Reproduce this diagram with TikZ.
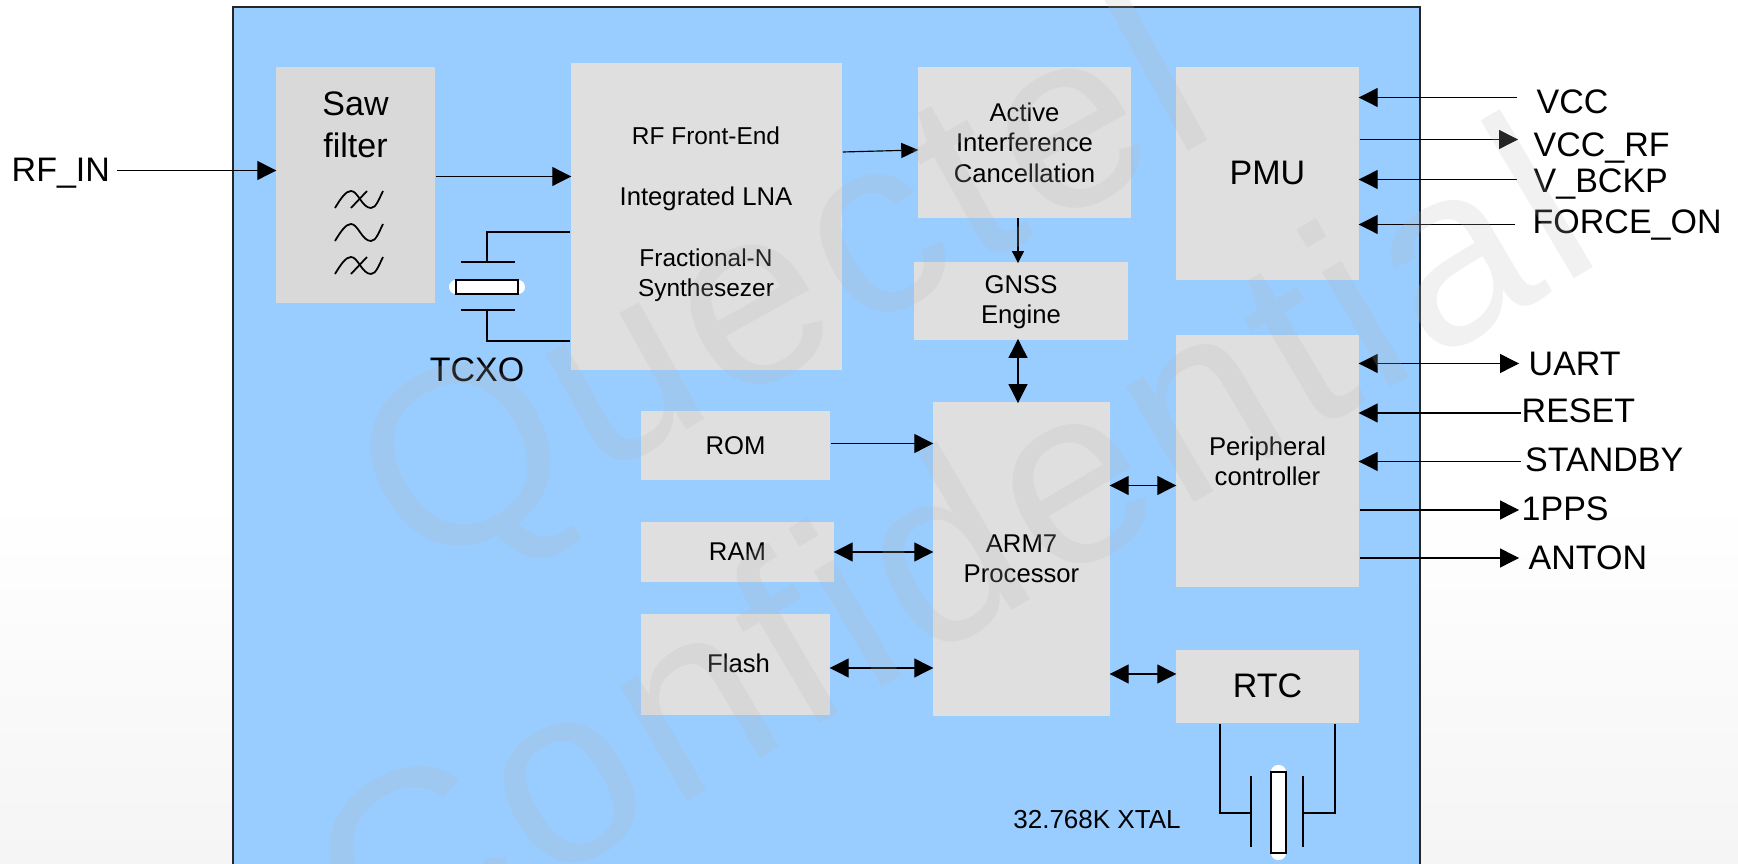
\documentclass[tikz,border=0pt]{standalone}
\usepackage{fontspec}
\setmainfont{Liberation Sans}
\newfontfamily\markfont[LetterSpace=3.2]{Liberation Sans}
\usetikzlibrary{arrows.meta, calc, positioning}

\definecolor{chipblue}{HTML}{99CCFF}
\definecolor{blockgray}{HTML}{DFDFDF}
\definecolor{sawgray}{HTML}{D9D9D9}
\definecolor{markgray}{HTML}{B9B9B9}

\tikzset{
  block/.style={fill=blockgray, inner sep=0pt, align=center, font=\smalltxt},
  bigblock/.style={block, font=\bigtxt},
  pinlabel/.style={anchor=west, inner sep=0pt, font=\bigtxt},
  sig/.style={->, line width=0.33pt, shorten >=-0.3pt},
  sigboth/.style={<->, line width=0.33pt, shorten >=-0.3pt, shorten <=-0.3pt},
  wire/.style={line width=0.5pt},
  watermark/.style={text=markgray, text opacity=0.2, font=\marktxt, inner sep=0pt}
}
\newcommand{\smalltxt}{\fontsize{7.3pt}{8.65pt}\selectfont}
\newcommand{\rftxt}{\fontsize{6.95pt}{8.65pt}\selectfont}
\newcommand{\bigtxt}{\fontsize{9.67pt}{11.9pt}\selectfont}
\newcommand{\marktxt}{\markfont\fontsize{72pt}{80pt}\selectfont}

\begin{document}
\begin{tikzpicture}[x=0.01cm, y=-0.01cm, >={Triangle[length=0.19cm, width=0.19cm]}]
\path[use as bounding box, clip] (0,0) rectangle (1738,864);
\shade[top color=white, bottom color=white!96!black] (0,500) rectangle (1738,864);
\draw[fill=chipblue, draw=black!85, line width=0.45pt] (233,7) rectangle (1420,880);

% blocks
\node[block, fill=sawgray, minimum width=1.59cm, minimum height=2.36cm] (saw) at (355.5,185) {};
\node[bigblock, fill=none] (sawtxt) at (355.5,124.5) {Saw\\filter};
\node[block, minimum width=2.71cm, minimum height=3.07cm] (rf) at (706.5,216.5) {};
\node[block, fill=none, font=\rftxt] (rftxt) at (706,214.5) {RF Front-End\\ \\{\smalltxt Integrated LNA}\\ \\Fractional-N\\Synthesezer};
\node[block, minimum width=2.13cm, minimum height=1.51cm] (aic) at (1024.5,142.5) {};
\node[block, fill=none] (aictxt) at (1024.5,142.5) {Active\\Interference\\Cancellation};
\node[block, minimum width=2.14cm, minimum height=0.78cm] (gnss) at (1021,301) {};
\node[block, fill=none] (gnsstxt) at (1021,302) {GNSS\\Engine};
\node[bigblock, minimum width=1.83cm, minimum height=2.13cm] (pmu) at (1267.5,173.5) {};
\node[bigblock, fill=none] (pmutxt) at (1267.5,172.5) {PMU};
\node[block, minimum width=1.83cm, minimum height=2.51cm] (periph) at (1267.5,461) {};
\node[block, fill=none] (periphtxt) at (1267.5,461.5) {Peripheral\\controller};
\node[block, minimum width=1.77cm, minimum height=3.14cm] (arm) at (1021.5,559) {ARM7\\Processor};
\node[block, minimum width=1.89cm, minimum height=0.69cm] (rom) at (735.5,445.5) {};
\node[block, fill=none] (romtxt) at (735.5,445.5) {ROM};
\node[block, minimum width=1.93cm, minimum height=0.60cm] (ram) at (737.5,552) {RAM};
\node[block, minimum width=1.89cm, minimum height=1.01cm] (flash) at (735.5,664.5) {};
\node[block, fill=none] (flashtxt) at (738.5,663) {Flash};
\node[bigblock, minimum width=1.83cm, minimum height=0.73cm] (rtc) at (1267.5,686.5) {};
\node[bigblock, fill=none] (rtctxt) at (1267.5,685.5) {RTC};

% filter symbols
\foreach \ys in {0,66} {
  \draw[wire] (335,{208+\ys}) .. controls (341,{198+\ys}) and (346,{191+\ys}) .. (351,{191+\ys})
    .. controls (358,{191+\ys}) and (362,{208+\ys}) .. (371,{208+\ys})
    .. controls (376,{208+\ys}) and (379,{199+\ys}) .. (383,{191+\ys});
  \draw[wire] (351,{208+\ys}) -- (367,{191+\ys});
}
\draw[wire] (335,241) .. controls (341,231) and (346,224) .. (351,224)
  .. controls (358,224) and (362,241) .. (371,241)
  .. controls (376,241) and (379,232) .. (383,224);

% outside pins
\node[pinlabel] (lrfin) at (11,173) {RF\_IN};
\coordinate (rfin) at (117,170.5);
\foreach \name/\lx/\ly/\txt in {lvcc/1536/102/VCC, lvccrf/1533/148/VCC\_RF, lbckp/1533/184.5/V\_BCKP, lforce/1532/225/FORCE\_ON,
    luart/1528/364/UART, lreset/1521/411/RESET, lstandby/1524.5/460/STANDBY, lpps/1521/509/1PPS, lanton/1528/557.5/ANTON}
  \node[pinlabel] (\name) at (\lx,\ly) {\txt};
\coordinate (pvcc) at (1517,97.5);
\coordinate (pvccrf) at (1517,139.5);
\coordinate (pbckp) at (1517,179.5);
\coordinate (pforce) at (1515,224.5);
\coordinate (puart) at (1518,363.5);
\coordinate (preset) at (1521,413);
\coordinate (pstandby) at (1521,461.5);
\coordinate (ppps) at (1518,510);
\coordinate (panton) at (1518,558);

\draw[sig] (rfin) -- (saw.west |- rfin);
\draw[sig] (saw.east |- 0,176.5) -- (rf.west |- 0,176.5);
\draw[sig, >={Triangle[length=0.17cm, width=0.15cm]}] (rf.east |- 0,152) -- (aic.west |- 0,150);
\draw[sig, >={Triangle[length=0.12cm, width=0.12cm]}] (1018,218) -- (1018,262);
\draw[sigboth] (1018,340) -- (1018,402);
\draw[sig] (rom.east |- 0,443.5) -- (arm.west |- 0,443.5);
\draw[sigboth] (ram.east) -- (arm.west |- ram);
\draw[sigboth] (flash.east |- 0,668) -- (arm.west |- 0,668);
\draw[sigboth] (arm.east |- 0,485.5) -- (periph.west |- 0,485.5);
\draw[sigboth] (arm.east |- 0,674) -- (rtc.west |- 0,674);

\draw[sig] (pvcc) -- (pmu.east |- pvcc);
\draw[sig] (pmu.east |- pvccrf) -- (pvccrf);
\draw[sig] (pbckp) -- (pmu.east |- pbckp);
\draw[sig] (pforce) -- (pmu.east |- pforce);
\draw[sigboth] (periph.east |- puart) -- (puart);
\draw[sig] (preset) -- (periph.east |- preset);
\draw[sig] (pstandby) -- (periph.east |- pstandby);
\draw[sig] (periph.east |- ppps) -- (ppps);
\draw[sig] (periph.east |- panton) -- (panton);

% TCXO
\node[fill=white, rounded corners=0.07cm, minimum width=0.76cm, minimum height=0.14cm, inner sep=0pt] (tcxohalo) at (487,287) {};
\node[fill=white, draw=black, wire, minimum width=0.62cm, minimum height=0.14cm, inner sep=0pt] (tcxo) at (487,287) {};
\coordinate (tcxotop) at (487,262);
\coordinate (tcxobot) at (487,310);
\draw[wire] (rf.west |- 0,232) -| (tcxotop);
\draw[wire] (rf.west |- 0,341) -| (tcxobot);
\draw[wire] (461,262) -- (515,262);
\draw[wire] (461,310) -- (515,310);
\node[inner sep=0pt, font=\bigtxt] (ltcxo) at (477,370) {TCXO};

% 32K crystal
\node[fill=white, rounded corners=0.07cm, minimum width=0.15cm, minimum height=0.95cm, inner sep=0pt] (xtalhalo) at (1278.5,812.5) {};
\node[fill=white, draw=black, wire, minimum width=0.15cm, minimum height=0.81cm, inner sep=0pt] (xtal) at (1278.5,812.5) {};
\coordinate (xtalleft) at (1251,813);
\coordinate (xtalright) at (1303,813);
\draw[wire] (rtc.south -| 1220,0) |- (xtalleft);
\draw[wire] (rtc.south -| 1335,0) |- (xtalright);
\draw[wire] (1251,776) -- (1251,847);
\draw[wire] (1303,776) -- (1303,847);
\node[inner sep=0pt, font=\fontsize{7.4pt}{8.65pt}\selectfont] (lxtal) at (1097,820) {32.768K XTAL};

% watermark
\node[watermark, rotate=29] (wmq) at (787,296) {Quectel};
\node[watermark, rotate=30.5] (wmc) at (948,543) {Confidential};
\end{tikzpicture}
\end{document}
